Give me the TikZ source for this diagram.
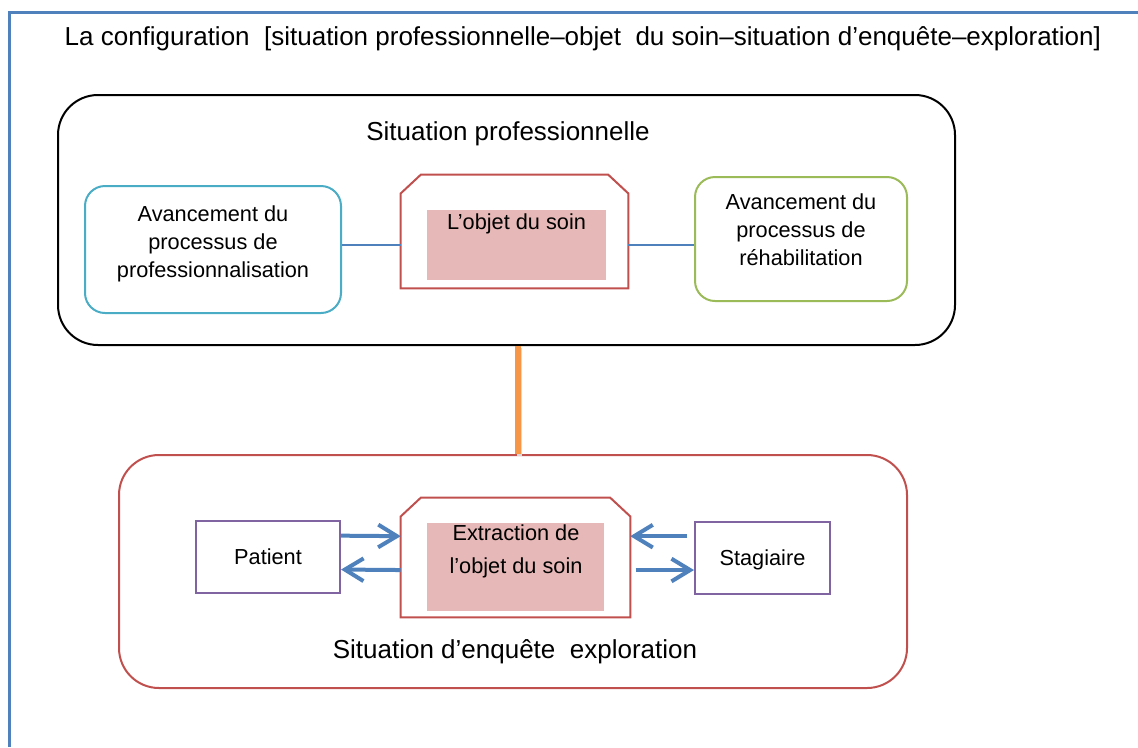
\documentclass[tikz,border=0pt]{standalone}
\usepackage{fontspec}
\setmainfont{Liberation Sans}
\usetikzlibrary{arrows.meta,positioning}

\definecolor{cadreblue}{RGB}{79,129,189}
\definecolor{avanceteal}{RGB}{75,172,198}
\definecolor{avancegreen}{RGB}{155,187,89}
\definecolor{soinred}{RGB}{192,80,77}
\definecolor{soinpink}{RGB}{230,184,183}
\definecolor{acteurpurple}{RGB}{128,100,162}
\definecolor{lienorange}{RGB}{247,150,70}

\newcommand\boxfont{\fontsize{16.3}{21}\selectfont}
\newcommand\bigfont{\fontsize{19.5}{23}\selectfont}
% contour coupe en haut (pan coupe de 15pt x 14pt)
\newcommand\chanfrein[1]{%
  \draw[soinred,line width=1.5pt] (#1.south west) -- ([yshift=-14pt]#1.north west)
    -- ([xshift=15pt]#1.north west) -- ([xshift=-15pt]#1.north east)
    -- ([yshift=-14pt]#1.north east) -- (#1.south east) -- cycle;}

\tikzset{
  situation/.style={draw,rounded corners=30pt,line width=1.5pt},
  avance/.style={draw,rounded corners=15pt,line width=1.5pt},
  acteur/.style={draw=acteurpurple,line width=1.5pt,minimum height=54pt,text depth=0pt,font=\boxfont},
  objetbox/.style={rectangle,inner sep=0pt},
  soinfond/.style={fill=soinpink,inner sep=0pt},
  boxtext/.style={align=center,font=\boxfont},
  bigtext/.style={font=\bigfont},
  lien/.style={cadreblue,line width=1.2pt},
  flux/.style={cadreblue,line width=3pt,-{Straight Barb[length=14pt,width=17pt]}}
}

\begin{document}
\begin{tikzpicture}[x=0.75pt,y=-0.75pt]
    \useasboundingbox (0,0) rectangle (1138,747);
    \draw[cadreblue,line width=2.25pt] (9,747) -- (9,12) -- (1138,12);

    \node[bigtext,anchor=base west] (titre) at (60,45)
      {La configuration~~[situation professionnelle–objet~~du soin–situation d’enquête–exploration]};

    % situation professionnelle
    \node[situation,minimum width=672.75pt,minimum height=187.5pt] (sitpro) at (506.5,220) {};
    \node[bigtext,anchor=base] (sitprotitre) at (508,140.7) {Situation professionnelle};

    \node[avance,draw=avanceteal,minimum width=192pt,minimum height=95.25pt] (profess) at (213,249.5) {};
    \node[boxtext] (professtexte) at (213,244) {Avancement du\\processus de\\professionnalisation};

    \node[objetbox,minimum width=170.25pt,minimum height=84.75pt] (objet) at (514.5,231.5) {};
    \chanfrein{objet}
    \node[soinfond,minimum width=134.25pt,minimum height=52.5pt] (objetfond) at (516.5,245) {};
    \node[boxtext,anchor=base] (objettexte) at (516.5,229) {L’objet du soin};

    \node[avance,draw=avancegreen,minimum width=159pt,minimum height=93pt] (rehab) at (801,239) {};
    \node[boxtext] (rehabtexte) at (801,230) {Avancement du\\processus de\\réhabilitation};

    \draw[lien] (profess.east |- objetfond.center) -- (objet.west |- objetfond.center);
    \draw[lien] (objet.east |- objetfond.center) -- (rehab.west |- objetfond.center);

    % situation d'enquete
    \node[situation,draw=soinred,minimum width=591pt,minimum height=174.75pt] (sitenq) at (513,571.5) {};
    \node[bigtext,anchor=base] (sitenqtitre) at (515,658) {Situation d’enquête~~exploration};

    \draw[black!15,line width=4pt] ([xshift=2pt,yshift=-1.5pt]sitpro.south -| objetfond.center)
      -- ([xshift=2pt,yshift=-1.5pt]sitenq.north -| objetfond.center);
    \draw[lienorange,line width=4pt] ([xshift=1pt]sitpro.south -| objetfond.center)
      -- ([xshift=1pt]sitenq.north -| objetfond.center);

    \node[acteur,minimum width=108pt] (patient) at (268,557) {Patient};
    \node[objetbox,minimum width=171.75pt,minimum height=89.25pt] (extraction) at (515.5,557.5) {};
    \chanfrein{extraction}
    \node[soinfond,minimum width=132.75pt,minimum height=66pt] (extractionfond) at (515.4,566.5) {};
    \node[boxtext,font=\fontsize{16.3}{24.75}\selectfont] (extractiontexte) at (516,551) {Extraction de\\l’objet du soin};
    \node[acteur,minimum width=101.25pt] (stagiaire) at (762.5,557.5) {Stagiaire};

    \draw[flux] ([yshift=16pt]patient.east) -- ([yshift=16pt]extraction.west);
    \draw[flux] ([yshift=-9.4pt]extraction.west) -- ([yshift=-9.4pt]patient.east);
    \draw[flux,shorten <=5pt] ([yshift=16pt]stagiaire.west) -- ([yshift=16pt]extraction.east);
    \draw[flux,shorten <=4pt] ([yshift=-9.4pt]extraction.east) -- ([yshift=-9.4pt]stagiaire.west);
\end{tikzpicture}
\end{document}
